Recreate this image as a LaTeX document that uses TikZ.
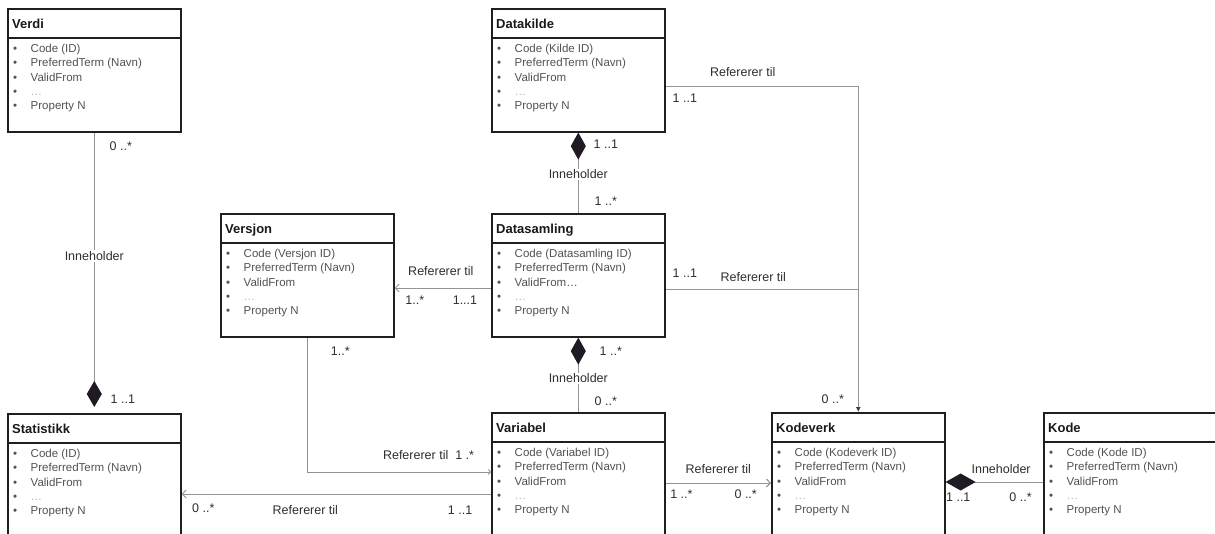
\documentclass[tikz,border=0pt]{standalone}
\usepackage{fontspec}
\setmainfont{Liberation Sans}
\usetikzlibrary{positioning,calc,arrows.meta}

\definecolor{ruter}{HTML}{1F1A24}
\tikzset{
  klasse/.style={draw=black!88, line width=1.6pt, minimum width=173pt, minimum height=123pt, anchor=north west, inner sep=0pt},
  skille/.style={draw=black!88, line width=1.6pt},
  tittel/.style={anchor=base west, inner sep=0pt, font=\fontsize{13}{15}\selectfont\bfseries, text=black!90},
  liste/.style={anchor=north west, inner sep=0pt, align=left, font=\fontsize{11.5}{14.3}\selectfont, text=black!68},
  kobling/.style={draw=black!42, line width=0.9pt},
  ref/.style={kobling, -{Straight Barb[length=4pt,width=8pt]}},
  inneholder/.style={kobling},
  etikett/.style={font=\fontsize{12.5}{14}\selectfont, text=black!82, inner sep=1pt},
}
\newcommand{\punkt}{\textbullet\hspace{13.5pt}}
\newcommand{\klasse}[5]{%
  \node[klasse] (#1) at (#2) {};
  \draw[skille] ($(#1.north west)+(0,30)$) -- ($(#1.north east)+(0,30)$);
  \node[tittel] (#1-tittel) at ($(#1.north west)+(5,20.5)$) {#3};
  \node[liste] (#1-liste) at ($(#1.north west)+(6,36)$) {\punkt #4\\ \punkt PreferredTerm (Navn)\\ \punkt #5\\ \punkt {\color{black!30}…}\\ \punkt Property N};
}

\begin{document}
\begin{tikzpicture}[x=1pt, y=-1pt]
  \useasboundingbox (0,0) rectangle (1215,533);
  \clip (0,0) rectangle (1215,533);
  \fill[white] (0,0) rectangle (1215,533);

  % klasser
  \klasse{verdi}{7,8}{Verdi}{Code (ID)}{ValidFrom}
  \klasse{datakilde}{491,8}{Datakilde}{Code (Kilde ID)}{ValidFrom}
  \klasse{versjon}{220,213}{Versjon}{Code (Versjon ID)}{ValidFrom}
  \klasse{datasamling}{491,213}{Datasamling}{Code (Datasamling ID)}{ValidFrom…}
  \klasse{statistikk}{7,413}{Statistikk}{Code (ID)}{ValidFrom}
  \klasse{variabel}{491,412}{Variabel}{Code (Variabel ID)}{ValidFrom}
  \klasse{kodeverk}{771,412}{Kodeverk}{Code (Kodeverk ID)}{ValidFrom}
  \klasse{kode}{1043,412}{Kode}{Code (Kode ID)}{ValidFrom}

  % hjelpepunkter for koblinger
  \coordinate (kilde-ut) at ($(datakilde.north east)+(0,78)$);
  \coordinate (samling-ut) at ($(datasamling.north east)+(0,76)$);
  \coordinate (samling-vest) at ($(datasamling.north west)+(0,75)$);
  \coordinate (variabel-v1) at ($(variabel.north west)+(0,60)$);
  \coordinate (variabel-v2) at ($(variabel.north west)+(0,82)$);
  \coordinate (variabel-ut) at ($(variabel.north east)+(0,71)$);
  \coordinate (kode-v) at ($(kode.north west)+(0,70)$);

  % inneholder
  \draw[inneholder, shorten >=6pt, -{Diamond[length=26pt,width=15pt,color=ruter]}] (verdi) -- (statistikk)
    node[etikett, pos=.05, xshift=26.5pt] {0 ..*}
    node[etikett, pos=.44, fill=white] {Inneholder}
    node[etikett, pos=.95, xshift=28.5pt] {1 ..1};
  \draw[inneholder, {Diamond[length=27pt,width=15pt,color=ruter]}-] (datakilde) -- (datasamling)
    node[etikett, pos=.15, xshift=27.5pt] {1 ..1}
    node[etikett, pos=.52, fill=white] {Inneholder}
    node[etikett, pos=.85, xshift=27.5pt] {1 ..*};
  \draw[inneholder, {Diamond[length=27pt,width=15pt,color=ruter]}-] (datasamling) -- (variabel)
    node[etikett, pos=.18, xshift=32.5pt] {1 ..*}
    node[etikett, pos=.55, fill=white] {Inneholder}
    node[etikett, pos=.86, xshift=27.5pt] {0 ..*};
  \draw[inneholder, -{Diamond[length=30pt,width=17pt,color=ruter]}] (kode-v) -- (kode-v -| kodeverk.east)
    node[etikett, pos=.43, yshift=13pt] {Inneholder}
    node[etikett, pos=.23, yshift=-15pt] {0 ..*}
    node[etikett, pos=.87, yshift=-15pt] {1 ..1};

  % refererer til
  \draw[kobling, -{Latex[length=5pt,width=5pt,color=black!75]}] (kilde-ut) -| (kodeverk.north)
    node[etikett, pos=.2, yshift=14pt] {Refererer til}
    node[etikett, pos=.05, yshift=-12pt] {1 ..1}
    node[etikett, pos=.98, xshift=-25.5pt] {0 ..*};
  \draw[kobling] (samling-ut) -- (samling-ut -| kodeverk.north)
    node[etikett, pos=.1, yshift=16pt] {1 ..1}
    node[etikett, pos=.455, yshift=12pt] {Refererer til};
  \draw[ref] (samling-vest) -- (samling-vest -| versjon.east)
    node[etikett, pos=.52, yshift=17pt] {Refererer til}
    node[etikett, pos=.27, yshift=-12pt] {1...1}
    node[etikett, pos=.79, yshift=-12pt] {1..*};
  \draw[kobling, -{Straight Barb[length=2pt,width=5pt]}] (versjon.south) |- (variabel-v1)
    node[etikett, pos=.05, xshift=33pt] {1..*}
    node[etikett, pos=.83, yshift=17pt] {Refererer til\ \ 1 .*};
  \draw[ref] (variabel-v2) -- (variabel-v2 -| statistikk.east)
    node[etikett, pos=.1, yshift=-16pt] {1 ..1}
    node[etikett, pos=.6, yshift=-16pt] {Refererer til}
    node[etikett, pos=.93, yshift=-14pt] {0 ..*};
  \draw[ref] (variabel-ut) -- (variabel-ut -| kodeverk.west)
    node[etikett, pos=.5, yshift=14pt] {Refererer til}
    node[etikett, pos=.15, yshift=-11pt] {1 ..*}
    node[etikett, pos=.76, yshift=-11pt] {0 ..*};
\end{tikzpicture}
\end{document}
